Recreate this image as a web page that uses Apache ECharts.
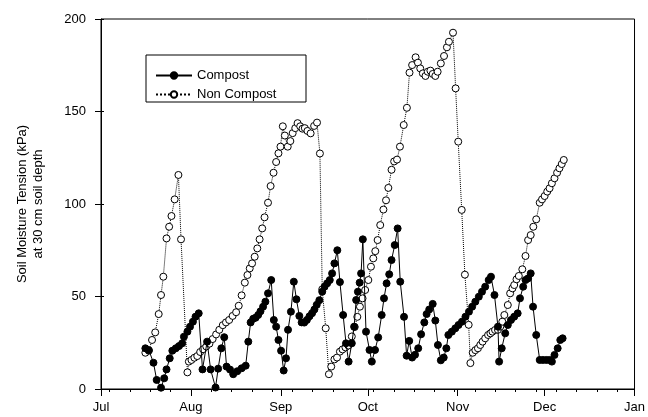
<!DOCTYPE html>
<html><head><meta charset="utf-8">
<script src="https://cdn.jsdelivr.net/npm/echarts@6/dist/echarts.min.js"></script>
<style>html,body{margin:0;padding:0;background:#fff}#c{width:648px;height:417px}</style>
</head><body><div id="c"></div>
<script>
// Days counted from 1 July (day 0)
var monthNames = ['Jul','Aug','Sep','Oct','Nov','Dec','Jan'];
var monthDays = [0,31,62,92,123,153,184];
var weekTickDays = [3,10,17,24,38,45,52,59,66,73,80,87,94,101,108,115,122,129,136,143,150,157,164,171,178];

var compostDays = [15.3,16.5,18.1,19.2,20.7,21.8,22.6,23.7,24.6,25.8,26.9,28.0,28.6,29.8,30.7,31.7,32.6,33.7,35.0,36.6,37.8,39.5,40.4,41.5,42.5,43.3,44.5,45.6,47.0,48.5,49.9,50.8,51.6,52.5,53.3,54.2,55.0,55.9,56.7,57.6,58.7,59.6,60.4,61.2,62.1,63.0,63.8,64.5,65.5,66.5,67.4,68.4,69.2,70.1,71.0,71.9,72.8,73.6,74.4,75.3,76.3,77.1,78.0,78.9,79.7,80.5,81.5,82.4,83.5,84.5,85.4,86.5,87.3,88.0,88.6,89.2,89.7,90.3,91.4,92.6,93.4,94.5,95.6,96.8,97.6,98.5,99.4,100.2,101.3,102.3,103.2,104.5,105.4,106.3,107.3,108.3,109.4,110.4,111.5,112.3,113.2,114.4,115.3,116.2,117.2,118.2,119.1,119.8,121.0,122.2,123.3,124.5,125.7,126.9,128.0,129.1,130.3,131.4,132.5,133.7,134.5,135.7,136.9,137.3,138.2,139.4,140.3,141.4,142.5,143.7,144.5,145.6,146.4,147.3,148.2,149.0,150.1,151.3,152.4,153.6,154.7,155.5,156.4,157.5,158.4,159.2];
var compostKPa = [22,21,14.2,4.9,0.7,5.8,10.6,16.6,20.7,22,23.2,24.7,28.3,31,33.7,36.4,39.1,40.9,10.6,25.6,10.6,0.8,11,22,28,12.1,10.5,8,9.6,11.2,12.6,25.6,36,38,38.5,40,42,44.5,47.2,51.7,58.9,37.3,33.7,26.5,20.7,10,16.6,32,41.8,58,48.5,39.5,36,35.9,37.3,39.3,41,43,45.5,48,52.6,55.3,57.1,58.9,62.5,67.9,75,57.8,40,24.7,14.8,24.7,33.7,48.1,52.6,57.5,62.5,80.9,31,21.1,14.8,21.1,27.9,40,49,57.1,62,69.7,77.8,86.8,58,39,18,26,17,18.5,22,29.6,36,40.5,43,46,37,23.8,15.5,17,22,29.2,31,32.8,34.6,36.4,39.1,41.8,44.5,47.2,49.9,52.6,55.3,58.9,60.7,50.8,33.7,14.8,22,30.1,34.6,37.3,39.1,40.9,49,55.3,58.9,59.8,62.5,44.5,29.2,15.7,15.7,15.7,15.7,14.8,18.4,22,26.5,27.4];

var nonCompostDays = [15.3,16.5,17.6,18.7,19.9,20.7,21.5,22.6,23.5,24.3,25.4,26.7,27.6,29.8,30.3,31.2,32.2,33.2,34.2,35.2,36.3,37.4,38.5,39.7,40.8,42.0,43.1,44.2,45.4,46.6,47.5,48.5,49.6,50.5,51.3,52.1,53.0,53.9,54.7,55.6,56.4,57.6,58.5,59.5,60.4,61.2,61.9,62.7,63.4,64.4,65.3,66.1,67.0,67.8,68.7,69.5,70.3,71.2,72.3,73.5,74.5,75.5,76.3,77.5,78.6,79.4,80.5,81.4,82.4,83.3,84.3,85.3,86.5,87.5,88.4,89.3,90.2,91.1,92.2,93.1,93.9,94.6,95.4,96.3,97.4,98.3,99.1,100.2,101.1,102.1,103.1,104.4,105.5,106.4,107.3,108.5,109.3,110.1,111.0,111.9,112.7,113.6,114.4,115.3,116.1,117.2,118.3,119.3,120.0,121.4,122.3,123.2,124.4,125.5,126.8,127.4,128.2,129.1,130.0,130.8,131.6,132.5,133.5,134.3,135.0,135.9,136.9,137.7,138.4,139.1,140.3,141.1,141.9,142.5,143.3,144.1,145.3,146.4,147.3,148.2,149.1,150.1,151.3,152.1,153.0,153.9,154.7,155.5,156.4,157.3,158.1,158.9,159.6];
var nonCompostKPa = [19.6,20.7,26.5,30.6,40.5,50.8,60.7,81.4,87.7,93.5,102.5,115.7,80.9,9,14.8,15.7,16.9,17.8,20,21.5,23,24.5,27,29.5,32,34.5,36,37.3,39.5,41.5,45,50.6,57.5,61.6,65.2,67.9,71.5,76,80.9,86.8,92.8,100.7,109.7,116.9,122.7,127.4,131,142,137,131,134,138.3,141,143.7,142,140.7,141,139.5,138.2,142.2,144,127.3,53.9,32.8,8,12.1,16,17,20.2,21.4,22.5,23.5,28.4,33.5,39,44.5,49,53.5,58.9,66.1,70.6,74.5,80.5,88.6,97,102,108.7,118.5,123,124,131,142.7,152,171,175.1,179.3,176.4,173.3,170.6,169.2,171.5,172.1,170.3,169.2,171.5,176,180,184.7,187.7,192.6,162.5,133.7,96.8,61.8,34.7,14,19.6,21,22,23.8,25.6,27.4,29.2,30.1,31,31.9,32,33.7,36.4,40,45.4,51.7,54.4,56.2,59.3,61.1,64.7,71.9,80.5,83.2,87.7,91.7,100.7,102.5,104.3,106.7,108.5,111.2,113.9,116.9,119.3,121.6,123.8];

var yTicks = [0,50,100,150,200];

function zip(xs, ys){ var out=[]; for (var i=0;i<xs.length;i++) out.push([xs[i], ys[i]]); return out; }

var FONT = 'Liberation Sans, Arial, sans-serif';
var chart = echarts.init(document.getElementById('c'), null, {renderer:'canvas'});
chart.setOption({
  animation: false,
  backgroundColor: '#fff',
  grid: {left: 101, right: 8, top: 19, bottom: 28, show: true, borderColor: '#000', borderWidth: 1, backgroundColor: 'transparent'},
  xAxis: [{
    type: 'value', min: monthDays[0], max: monthDays[monthDays.length-1],
    axisLine: {show: true, onZero: false, lineStyle: {color: '#000', width: 1}},
    splitLine: {show: false},
    axisTick: {show: true, customValues: monthDays, length: 7, lineStyle: {color: '#000'}},
    axisLabel: {customValues: monthDays, margin: 12, color: '#000', fontSize: 13, fontFamily: FONT,
      formatter: function(v){ var i = monthDays.indexOf(v); return i >= 0 ? monthNames[i] : ''; }}
  }, {
    type: 'value', position: 'bottom', min: monthDays[0], max: monthDays[monthDays.length-1],
    axisLine: {show: false}, splitLine: {show: false},
    axisTick: {show: true, customValues: weekTickDays, length: 3, lineStyle: {color: '#000'}},
    axisLabel: {show: false}
  }],
  yAxis: [{
    type: 'value', min: 0, max: 200, interval: 50,
    axisLine: {show: true, lineStyle: {color: '#000'}},
    splitLine: {show: false},
    axisTick: {show: true, length: 6, lineStyle: {color: '#000'}},
    axisLabel: {color: '#000', fontSize: 13, fontFamily: FONT, margin: 15,
      formatter: function(v){ return yTicks.indexOf(v) >= 0 ? String(v) : ''; }}
  }, {
    type: 'value', position: 'left', min: 0, max: 200, interval: 50,
    axisLine: {show: false}, splitLine: {show: false},
    axisTick: {show: true, inside: true, length: 3, lineStyle: {color: '#000'}},
    axisLabel: {show: false}
  }],
  legend: {
    orient: 'vertical', left: 150, top: 64, z: 10,
    itemWidth: 36, itemHeight: 8, itemGap: 6,
    textStyle: {color: '#000', fontSize: 13, fontFamily: FONT},
    data: ['Compost', 'Non Compost']
  },
  graphic: [
    {type: 'rect', z: 1, shape: {x: 146, y: 55, width: 160, height: 47}, style: {fill: '#fff', stroke: '#000', lineWidth: 1}},
    {type: 'text', z: 5, x: 22, y: 204, rotation: Math.PI/2,
      style: {text: 'Soil Moisture Tension (kPa)', fill: '#000', font: '13px ' + FONT, textAlign: 'center', textVerticalAlign: 'middle'}},
    {type: 'text', z: 5, x: 38, y: 204, rotation: Math.PI/2,
      style: {text: 'at 30 cm soil depth', fill: '#000', font: '13px ' + FONT, textAlign: 'center', textVerticalAlign: 'middle'}}
  ],
  series: [{
    name: 'Non Compost', type: 'line', data: zip(nonCompostDays, nonCompostKPa),
    symbol: 'circle', symbolSize: 7, showAllSymbol: true, z: 3,
    lineStyle: {color: '#000', width: 1, type: 'dotted'},
    itemStyle: {color: '#fff', borderColor: '#000', borderWidth: 1}
  }, {
    name: 'Compost', type: 'line', data: zip(compostDays, compostKPa),
    symbol: 'circle', symbolSize: 7, showAllSymbol: true, z: 4,
    lineStyle: {color: '#000', width: 1, type: 'solid'},
    itemStyle: {color: '#000', borderColor: '#000', borderWidth: 1}
  }]
});
</script></body></html>
